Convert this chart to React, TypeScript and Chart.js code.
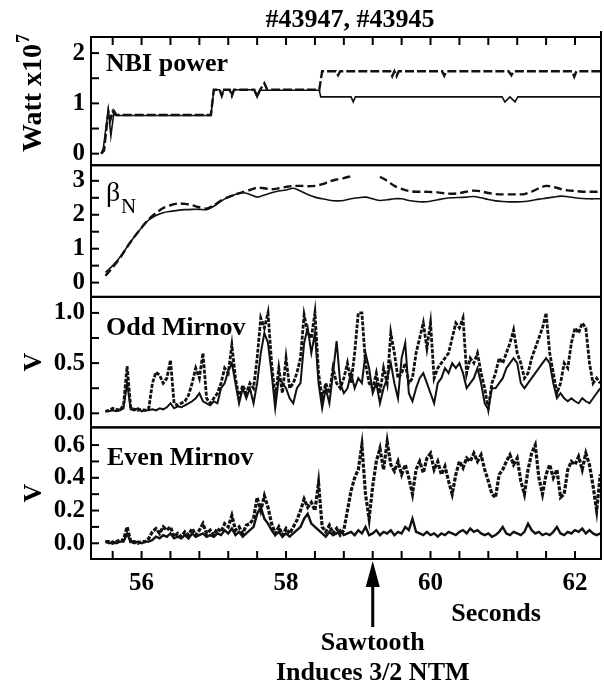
import React, { useEffect, useRef } from 'react';
import { Chart, registerables } from 'chart.js';

Chart.register(...registerables);

const SERIF = '"Liberation Serif", "Times New Roman", Times, serif';

// ---------- shared x axis ----------
const X_MIN = 55.3;
const X_MAX = 62.36;
const xTickValues = [55.6, 56.0, 56.4, 56.8, 57.2, 57.6, 58.0, 58.4, 58.8, 59.2, 59.6, 60.0, 60.4, 60.8, 61.2, 61.6, 62.0];
const xLabelValues = [56, 58, 60, 62];

// ---------- NBI power (Watt x10^7) ----------
const nbiSolidT = [55.44, 55.47, 55.54, 55.575, 55.62, 55.66, 56.96, 57.0, 57.08, 57.11, 57.14, 57.22, 57.25, 57.28, 57.56, 57.6, 57.64, 58.46, 58.48, 58.9, 58.93, 58.96, 60.99, 61.03, 61.1, 61.17, 61.21, 62.36];
const nbiSolidV = [0.0, 0.1, 0.88, 0.35, 0.86, 0.76, 0.76, 1.27, 1.27, 1.17, 1.27, 1.27, 1.17, 1.27, 1.27, 1.12, 1.26, 1.26, 1.13, 1.13, 1.03, 1.13, 1.13, 1.03, 1.13, 1.03, 1.13, 1.13];
const nbiDashedT = [55.44, 55.48, 55.54, 55.57, 55.6, 55.64, 56.96, 57.0, 57.08, 57.11, 57.14, 57.22, 57.25, 57.28, 57.56, 57.6, 57.64, 57.7, 57.74, 58.46, 58.5, 58.69, 58.72, 58.75, 59.44, 59.47, 59.5, 59.53, 59.56, 60.16, 60.19, 60.22, 61.08, 61.12, 61.15, 61.96, 61.99, 62.02, 62.36];
const nbiDashedV = [0.0, 0.06, 0.84, 0.68, 0.84, 0.77, 0.77, 1.27, 1.27, 1.15, 1.27, 1.27, 1.15, 1.27, 1.27, 1.14, 1.27, 1.4, 1.27, 1.27, 1.64, 1.64, 1.56, 1.64, 1.64, 1.54, 1.64, 1.54, 1.64, 1.64, 1.55, 1.64, 1.64, 1.56, 1.64, 1.64, 1.53, 1.64, 1.64];

// ---------- beta_N ----------
const betaT = [
  55.5, 55.6, 55.7, 55.8, 55.9, 56.0, 56.1, 56.2, 56.3, 56.4,
  56.5, 56.6, 56.7, 56.8, 56.9, 57.0, 57.1, 57.2, 57.3, 57.4,
  57.5, 57.6, 57.7, 57.8, 57.9, 58.0, 58.1, 58.2, 58.3, 58.4,
  58.5, 58.6, 58.7, 58.8, 58.9, 59.0, 59.1, 59.2, 59.3, 59.4,
  59.5, 59.6, 59.7, 59.8, 59.9, 60.0, 60.1, 60.2, 60.3, 60.4,
  60.5, 60.6, 60.7, 60.8, 60.9, 61.0, 61.1, 61.2, 61.3, 61.4,
  61.5, 61.6, 61.7, 61.8, 61.9, 62.0, 62.1, 62.2, 62.3, 62.35,
];
const betaSolid = [
  0.3, 0.5, 0.75, 1.05, 1.35, 1.62, 1.85, 1.98, 2.06, 2.1,
  2.13, 2.15, 2.16, 2.16, 2.15, 2.25, 2.4, 2.52, 2.6, 2.65,
  2.6, 2.52, 2.58, 2.65, 2.7, 2.73, 2.78, 2.7, 2.6, 2.52,
  2.47, 2.43, 2.41, 2.42, 2.47, 2.5, 2.52, 2.47, 2.42, 2.44,
  2.47, 2.47, 2.42, 2.39, 2.38, 2.4, 2.44, 2.48, 2.5, 2.51,
  2.52, 2.54, 2.5, 2.45, 2.41, 2.39, 2.38, 2.38, 2.39, 2.42,
  2.46, 2.49, 2.52, 2.55, 2.53, 2.5, 2.48, 2.47, 2.47, 2.47,
];
const betaDashed = [
  0.2, 0.45, 0.72, 1.05, 1.35, 1.62, 1.87, 2.05, 2.2, 2.28,
  2.33, 2.32, 2.28, 2.22, 2.18, 2.28, 2.42, 2.52, 2.6, 2.67,
  2.73, 2.8, 2.78, 2.75, 2.78, 2.82, 2.85, 2.85, 2.84, 2.85,
  2.9, 2.98, 3.04, 3.08, 3.14, null, null, null, 3.12, 3.0,
  2.85, 2.76, 2.7, 2.68, 2.68, 2.67, 2.66, 2.63, 2.62, 2.64,
  2.68, 2.71, 2.69, 2.64, 2.61, 2.6, 2.6, 2.6, 2.61, 2.68,
  2.78, 2.85, 2.82, 2.76, 2.72, 2.7, 2.68, 2.68, 2.68, 2.7,
];

// ---------- Mirnov signals, sampled every 0.05 s from 55.50 s ----------
const mirnovStart = 55.5;
const mirnovStep = 0.05;
const oddDashed = [
  0.02, 0.03, 0.05, 0.04, 0.03, 0.08, 0.47, 0.05, 0.04, 0.03,
  0.04, 0.03, 0.05, 0.3, 0.41, 0.38, 0.3, 0.35, 0.53, 0.1,
  0.08, 0.1, 0.12, 0.18, 0.3, 0.45, 0.35, 0.6, 0.15, 0.1,
  0.15, 0.2, 0.3, 0.45, 0.4, 0.68, 0.35, 0.15, 0.28, 0.2,
  0.3, 0.25, 0.55, 0.95, 0.85, 1.0, 0.5, 0.15, 0.45, 0.2,
  0.55, 0.25, 0.3, 0.4, 0.55, 0.98, 0.8, 0.75, 1.0, 0.4,
  0.15, 0.3, 0.2, 0.45, 0.3, 0.25, 0.35, 0.5, 0.3, 0.6,
  1.0, 1.0, 0.5, 0.3, 0.25, 0.4, 0.2, 0.45, 0.3, 0.8,
  0.6, 0.35, 0.4, 0.5, 0.3, 0.35, 0.6, 0.75, 0.9, 0.65,
  0.9, 0.35, 0.45, 0.5, 0.55, 0.6, 0.75, 0.9, 0.85, 0.95,
  0.4, 0.55, 0.5, 0.6, 0.4, 0.25, 0.05, 0.3, 0.4, 0.55,
  0.5, 0.6, 0.7, 0.83, 0.6, 0.5, 0.35, 0.4, 0.55, 0.65,
  0.75, 0.85, 1.0, 0.6, 0.4, 0.2, 0.3, 0.5, 0.45, 0.7,
  0.85, 0.8, 0.9, 0.85, 0.5, 0.3, 0.35, 0.3,
];
const oddSolid = [
  0.02, 0.02, 0.03, 0.02, 0.03, 0.05, 0.3, 0.04, 0.03, 0.05,
  0.02, 0.03, 0.03, 0.04, 0.03, 0.05, 0.04, 0.06, 0.1, 0.05,
  0.07, 0.06, 0.08, 0.1, 0.12, 0.15, 0.2, 0.12, 0.1, 0.08,
  0.12, 0.1, 0.25, 0.3, 0.42, 0.5, 0.3, 0.1, 0.25, 0.15,
  0.25, 0.1, 0.3, 0.6, 0.8, 0.7, 0.4, 0.05, 0.35, 0.3,
  0.25, 0.15, 0.1, 0.25, 0.3, 0.7, 0.85, 0.6, 0.8, 0.3,
  0.05, 0.25, 0.1, 0.4, 0.72, 0.3, 0.2, 0.25, 0.4, 0.25,
  0.35, 0.3, 0.6, 0.45, 0.2, 0.3, 0.1, 0.25, 0.35, 0.5,
  0.3, 0.15, 0.55, 0.7, 0.2, 0.12, 0.25, 0.35, 0.4, 0.3,
  0.2, 0.1, 0.3, 0.35, 0.45, 0.4, 0.5, 0.45, 0.5, 0.4,
  0.25, 0.3, 0.35, 0.45, 0.3, 0.1, 0.04, 0.25, 0.25, 0.3,
  0.35, 0.45, 0.5, 0.55, 0.5, 0.3, 0.25, 0.3, 0.35, 0.4,
  0.45, 0.5, 0.55, 0.5, 0.3, 0.15, 0.2, 0.15, 0.12, 0.15,
  0.12, 0.1, 0.15, 0.12, 0.1, 0.15, 0.2, 0.25,
];
const evenDashed = [
  0.01, 0.01, 0.0, 0.01, 0.02, 0.02, 0.1, 0.01, 0.01, 0.0,
  0.01, 0.01, 0.03, 0.07, 0.09, 0.06, 0.1, 0.08, 0.1, 0.04,
  0.06, 0.04, 0.07, 0.05, 0.09, 0.05, 0.08, 0.12, 0.06, 0.08,
  0.05, 0.09, 0.07, 0.12, 0.1, 0.17, 0.08, 0.1, 0.06, 0.11,
  0.12, 0.15, 0.28, 0.2, 0.29, 0.22, 0.12, 0.06, 0.1, 0.05,
  0.09, 0.06, 0.1, 0.14, 0.2, 0.27, 0.22, 0.25, 0.2, 0.37,
  0.1, 0.07, 0.11, 0.06, 0.09, 0.05, 0.08, 0.2, 0.32, 0.4,
  0.45, 0.6, 0.3, 0.15, 0.35, 0.5, 0.58, 0.45, 0.62, 0.48,
  0.44, 0.5, 0.42, 0.48, 0.4, 0.3, 0.45, 0.5, 0.43, 0.52,
  0.55, 0.45, 0.5, 0.42, 0.47, 0.38, 0.3, 0.42, 0.5, 0.46,
  0.52, 0.5, 0.55, 0.5, 0.54, 0.45, 0.38, 0.3, 0.28, 0.42,
  0.45, 0.5, 0.54, 0.48, 0.52, 0.38, 0.3, 0.45, 0.55, 0.6,
  0.4, 0.3, 0.42, 0.48, 0.4, 0.45, 0.28, 0.3, 0.45, 0.5,
  0.48, 0.53, 0.45, 0.55, 0.48, 0.35, 0.2, 0.42,
];
const evenSolid = [
  0.01, 0.0, 0.01, 0.0, 0.01, 0.01, 0.06, 0.01, 0.0, 0.01,
  0.0, 0.01, 0.01, 0.02, 0.04, 0.03, 0.05, 0.04, 0.06, 0.03,
  0.04, 0.03, 0.05, 0.03, 0.06, 0.04, 0.05, 0.06, 0.04, 0.05,
  0.04, 0.06, 0.05, 0.08, 0.06, 0.09, 0.05, 0.07, 0.04, 0.06,
  0.08, 0.1, 0.18, 0.22, 0.15, 0.12, 0.08, 0.05, 0.07, 0.04,
  0.06, 0.04, 0.06, 0.08, 0.1, 0.15, 0.18, 0.12, 0.1, 0.08,
  0.06, 0.04, 0.07, 0.05, 0.06, 0.08, 0.05, 0.06, 0.07, 0.05,
  0.08, 0.06, 0.1, 0.05, 0.06, 0.08, 0.05, 0.07, 0.06, 0.08,
  0.05, 0.07, 0.06, 0.1, 0.08, 0.15, 0.07, 0.06, 0.05, 0.07,
  0.05, 0.06, 0.04, 0.06, 0.05, 0.07, 0.06, 0.05, 0.07, 0.08,
  0.06, 0.09, 0.07, 0.08, 0.06, 0.05, 0.06, 0.04, 0.05, 0.07,
  0.1, 0.06, 0.05, 0.07, 0.06, 0.05, 0.07, 0.12, 0.08, 0.06,
  0.07, 0.05, 0.06, 0.05, 0.07, 0.1, 0.06, 0.05, 0.07, 0.06,
  0.08, 0.07, 0.09, 0.06, 0.08, 0.06, 0.05, 0.06,
];

// ---------- panel y ticks ----------
const nbiTicks = [0, 0.5, 1, 1.5, 2];
const nbiLabels = [0, 1, 2];
const betaTicks = [0, 0.5, 1, 1.5, 2, 2.5, 3];
const betaLabels = [0, 1, 2, 3];
const oddTicks = [0, 0.25, 0.5, 0.75, 1.0];
const oddLabels = [0, 0.5, 1.0];
const evenTicks = [0, 0.1, 0.2, 0.3, 0.4, 0.5, 0.6];
const evenLabels = [0, 0.2, 0.4, 0.6];

const ARROW_TIME = 59.2;

function pairs(t: number[], v: (number | null)[]) {
  return t.map((x, i) => ({ x, y: v[i] }));
}
function sampled(v: number[]) {
  return v.map((y, i) => ({ x: Math.round((mirnovStart + i * mirnovStep) * 100) / 100, y }));
}

function yScale(min: number, max: number, order: number, stackWeight: number, tickVals: number[], labelVals: number[], fmt: (v: number) => string) {
  return {
    type: 'linear',
    position: 'left',
    stack: 'panels',
    stackWeight,
    weight: order,
    min,
    max,
    bounds: 'data',
    afterBuildTicks: (s: any) => {
      s.ticks = tickVals.map((v) => ({ value: v }));
    },
    afterFit: (s: any) => {
      s.width = 91;
    },
    ticks: {
      autoSkip: false,
      padding: 6,
      color: '#000',
      font: { family: SERIF, size: 25, weight: 'bold' },
      callback: (v: number) => (labelVals.includes(v) ? fmt(v) : ''),
    },
    grid: { display: false, drawTicks: false },
    border: { display: false },
  };
}

const PANELS = ['yNbi', 'yBeta', 'yOdd', 'yEven'];

const decor = {
  id: 'decor',
  afterDraw(chart: any) {
    const { ctx, chartArea: ca, scales } = chart;
    ctx.save();
    ctx.strokeStyle = '#000';
    ctx.fillStyle = '#000';
    ctx.lineWidth = 2;
    const line = (x1: number, y1: number, x2: number, y2: number) => {
      ctx.beginPath();
      ctx.moveTo(x1, y1);
      ctx.lineTo(x2, y2);
      ctx.stroke();
    };
    for (const id of PANELS) {
      const s = scales[id];
      ctx.strokeRect(ca.left, s.top, ca.right - ca.left, s.bottom - s.top);
      for (const t of s.ticks) {
        const y = s.getPixelForValue(t.value);
        line(ca.left, y, ca.left + 8, y);
      }
    }
    // right frame line runs a little above the top panel, as in the figure
    line(ca.right, scales.yNbi.top - 6, ca.right, scales.yEven.bottom);
    const xs = scales.x;
    const top = scales.yNbi.top;
    const bottom = scales.yEven.bottom;
    for (const v of xTickValues) {
      const x = xs.getPixelForValue(v);
      line(x, bottom, x, bottom - 8);
      line(x, top, x, top + 8);
    }

    const text = (s: string, x: number, y: number, size: number, weight: string, align: CanvasTextAlign = 'left') => {
      ctx.font = `${weight} ${size}px ${SERIF}`;
      ctx.textAlign = align;
      ctx.textBaseline = 'alphabetic';
      ctx.fillText(s, x, y);
    };

    // title
    text('#43947, #43945', 350, 27, 26, 'bold', 'center');

    // panel labels
    text('NBI power', 106, 71, 26, 'bold');
    text('\u03B2', 106, 201, 28, 'normal');
    text('N', 121, 213, 21, 'normal');
    text('Odd Mirnov', 106, 335, 26, 'bold');
    text('Even Mirnov', 107, 465, 26, 'bold');

    // rotated y titles
    const rotated = (draw: () => void, cx: number, cy: number) => {
      ctx.save();
      ctx.translate(cx, cy);
      ctx.rotate(-Math.PI / 2);
      draw();
      ctx.restore();
    };
    rotated(() => {
      ctx.font = `bold 28px ${SERIF}`;
      const main = 'Watt x10';
      const w1 = ctx.measureText(main).width;
      ctx.font = `bold 18px ${SERIF}`;
      const w2 = ctx.measureText('7').width;
      const start = -(w1 + w2 + 1) / 2;
      text(main, start, 10, 28, 'bold');
      text('7', start + w1 + 1, -2, 18, 'bold');
    }, 31, 93);
    rotated(() => text('V', 0, 10, 26, 'bold', 'center'), 31, 362);
    rotated(() => text('V', 0, 10, 26, 'bold', 'center'), 31, 493);

    // seconds
    text('Seconds', 496, 621, 26, 'bold', 'center');

    // arrow + annotation
    const ax = xs.getPixelForValue(ARROW_TIME);
    ctx.lineWidth = 3;
    line(ax, 585, ax, 627);
    ctx.beginPath();
    ctx.moveTo(ax, 561);
    ctx.lineTo(ax - 7, 587);
    ctx.lineTo(ax + 7, 587);
    ctx.closePath();
    ctx.fill();
    text('Sawtooth', ax, 650, 26, 'bold', 'center');
    text('Induces 3/2 NTM', ax, 680, 26, 'bold', 'center');

    ctx.restore();
  },
};

export default function App() {
  const canvasRef = useRef<HTMLCanvasElement | null>(null);

  useEffect(() => {
    const canvas = canvasRef.current;
    if (!canvas) return;
    const solid = { borderColor: '#111', borderWidth: 1.6, pointRadius: 0, fill: false };
    const dashed = { borderColor: '#111', borderWidth: 2.4, pointRadius: 0, fill: false };
    const chart = new Chart(canvas, {
      type: 'line',
      data: {
        datasets: [
          { ...dashed, label: 'NBI #43945', data: pairs(nbiDashedT, nbiDashedV), yAxisID: 'yNbi', borderDash: [9, 3] },
          { ...solid, label: 'NBI #43947', data: pairs(nbiSolidT, nbiSolidV), yAxisID: 'yNbi' },
          { ...dashed, label: 'betaN #43945', data: pairs(betaT, betaDashed), yAxisID: 'yBeta', borderDash: [8, 4], tension: 0.3, spanGaps: false },
          { ...solid, label: 'betaN #43947', data: pairs(betaT, betaSolid), yAxisID: 'yBeta', tension: 0.3 },
          { ...dashed, label: 'Odd #43945', data: sampled(oddDashed), yAxisID: 'yOdd', borderDash: [4, 1.5], borderWidth: 2.8 },
          { ...solid, label: 'Odd #43947', data: sampled(oddSolid), yAxisID: 'yOdd', borderWidth: 2 },
          { ...dashed, label: 'Even #43945', data: sampled(evenDashed), yAxisID: 'yEven', borderDash: [4, 1.5], borderWidth: 3.2 },
          { ...solid, label: 'Even #43947', data: sampled(evenSolid), yAxisID: 'yEven', borderWidth: 2.4 },
        ],
      },
      options: {
        animation: false,
        responsive: false,
        layout: { padding: { top: 37, right: 3, bottom: 0, left: 0 } },
        plugins: { legend: { display: false }, tooltip: { enabled: false }, title: { display: false } },
        scales: {
          x: {
            type: 'linear',
            position: 'bottom',
            min: X_MIN,
            max: X_MAX,
            bounds: 'data',
            afterBuildTicks: (s: any) => {
              s.ticks = xTickValues.map((v) => ({ value: v }));
            },
            afterFit: (s: any) => {
              s.height = 125;
            },
            ticks: {
              autoSkip: false,
              maxRotation: 0,
              minRotation: 0,
              padding: 10,
              color: '#000',
              font: { family: SERIF, size: 25, weight: 'bold' },
              callback: (v: number) => (xLabelValues.includes(v) ? String(v) : ''),
            },
            grid: { display: false, drawTicks: false },
            border: { display: false },
          },
          yNbi: yScale(-0.23, 2.32, 4, 128.3, nbiTicks, nbiLabels, (v) => String(v)),
          yBeta: yScale(-0.42, 3.46, 3, 131.7, betaTicks, betaLabels, (v) => String(v)),
          yOdd: yScale(-0.14, 1.16, 2, 130.6, oddTicks, oddLabels, (v) => v.toFixed(1)),
          yEven: yScale(-0.096, 0.708, 1, 131.7, evenTicks, evenLabels, (v) => v.toFixed(1)),
        } as any,
      },
      plugins: [decor],
    } as any);
    return () => chart.destroy();
  }, []);

  return (
    <div style={{ position: 'absolute', left: 0, top: 0, width: 604, height: 684, background: '#fff' }}>
      <canvas ref={canvasRef} width={604} height={684} style={{ width: 604, height: 684, display: 'block' }} />
    </div>
  );
}
